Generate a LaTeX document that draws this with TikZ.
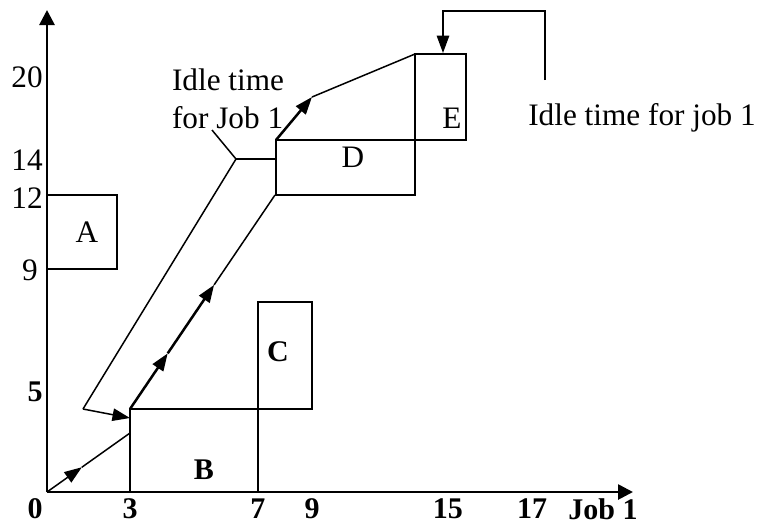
\documentclass[tikz,border=0pt]{standalone}
\usepackage{fontspec}
\setmainfont{Liberation Serif}
\usetikzlibrary{arrows.meta,calc}

\begin{document}
\begin{tikzpicture}[x=0.4pt,y=-0.4pt,line width=0.6pt]

    \tikzset{flow/.style={-{Triangle[length=7pt,width=5pt]}}}
    \tikzset{axis/.style={line width=1.1pt,-{Triangle[length=6pt,width=6pt]}}}
    \tikzset{every node/.style={font=\fontsize{12.5}{15}\selectfont}}
    \tikzstyle{tick}=[font=\fontsize{12}{14}\selectfont\bfseries, inner sep=1pt]

    \useasboundingbox (0,0) rectangle (762,523);

    % AXES
    \coordinate (o) at (47,492);
    \coordinate (ytip) at (47,10);
    \coordinate (xtip) at (633,492);
    \draw[axis] (o) -- (ytip);
    \draw[axis] (o) -- (xtip);

    % TICK LABELS
    \node(y20) at (27,77) {20};
    \node(y14) at (27,160) {14};
    \node(y12) at (27,198) {12};
    \node(y9) at (30,270) {9};
    \node(y5) at (35,392) [tick] {5};
    \node(x0) at (35,509) [tick] {0};
    \node(x3) at (130,509) [tick] {3};
    \node(x7) at (258,509) [tick] {7};
    \node(x9) at (312,509) [tick] {9};
    \node(x15) at (448,509) [tick] {15};
    \node(x17) at (532,509) [tick] {17};
    \node(job1) at (603,509) [tick] {Job 1};

    % OPERATIONS
    \draw (47,195) rectangle (117,269);
    \node(opA) at (87,232) {A};
    \draw (130,409) rectangle (258,492);
    \node(opB) at (204,470) [tick] {B};
    \draw (258,302) rectangle (312,409);
    \node(opC) at (278,352) [tick] {C};
    \draw (276,140) rectangle (415,195);
    \node(opD) at (353,157) {D};
    \draw (415,54) rectangle (466,140);
    \node(opE) at (452,118) {E};

    % JOB PATH
    \coordinate (p1) at (130,433);
    \coordinate (m1) at ($(o)!0.42!(p1)$);
    \draw[flow] (o) -- (m1);
    \draw (m1) -- (p1);

    \coordinate (p2) at (130,409);
    \coordinate (p3) at (275,195);
    \coordinate (m2) at ($(p2)!0.26!(p3)$);
    \coordinate (m3) at ($(p2)!0.58!(p3)$);
    \draw[flow, line width=1pt] (p2) -- (m2);
    \draw[flow, line width=1pt] (m2) -- (m3);
    \draw (m3) -- (p3);

    \coordinate (r1) at (276,140);
    \coordinate (r2) at (312,97);
    \coordinate (r3) at (415,54);
    \draw[flow, line width=1pt] (r1) -- (r2);
    \draw (r2) -- (r3);

    % IDLE TIME FOR JOB 1 (LEFT)
    \coordinate (q1) at (83,409);
    \coordinate (q2) at (236,159);
    \coordinate (q3) at (275,159);
    \coordinate (q4) at (212,130);
    \coordinate (q5) at (130,418);
    \node(idle1) at (163,99) [anchor=west, align=left] {Idle time\\for Job 1};
    \draw (q4) -- (q2) -- (q1);
    \draw (q2) -- (q3);
    \draw[flow] (q1) -- (q5);

    % IDLE TIME FOR JOB 1 (RIGHT)
    \coordinate (c1) at (545,80);
    \coordinate (c2) at (443,53);
    \coordinate (c3) at (545,11);
    \draw[flow] (c1) -- (c3) -| (c2);
    \node(idle2) at (642,118) {Idle time for job 1};

\end{tikzpicture}
\end{document}
